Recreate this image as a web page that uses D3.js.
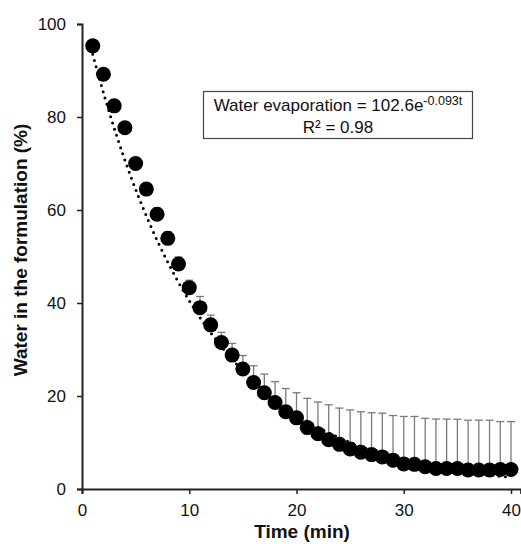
<!DOCTYPE html>
<html>
<head>
<meta charset="utf-8">
<script src="https://cdn.jsdelivr.net/npm/d3@7"></script>
<style>
  body { margin: 0; background: #fff; }
  text { font-family: "Liberation Sans", Arial, sans-serif; fill: #111; }
</style>
</head>
<body>
<div id="chart-area"></div>
<script>
// time (min)
var times = [1,2,3,4,5,6,7,8,9,10,11,12,13,14,15,16,17,18,19,20,
             21,22,23,24,25,26,27,28,29,30,31,32,33,34,35,36,37,38,39,40];
// mean water (%)
var water = [95.3,89.2,82.4,77.7,70.0,64.5,59.1,53.9,48.4,43.3,
             39.0,35.3,31.5,28.8,25.8,22.9,20.7,18.6,16.6,15.3,
             13.2,11.9,10.6,9.6,8.6,7.9,7.4,6.9,6.2,5.4,
             5.3,4.8,4.4,4.4,4.4,4.1,4.1,4.1,4.2,4.2];
// upper error (SD)
var errUp = [0.5,0.8,1.0,1.0,1.2,1.2,1.3,1.4,1.5,1.6,
             2.4,2.1,2.2,2.5,2.9,3.6,4.0,4.5,5.0,5.4,
             6.3,6.8,7.5,7.8,8.4,8.7,9.0,9.4,9.6,10.2,
             10.3,10.4,10.65,10.65,10.6,10.7,10.7,10.7,10.3,10.3];
var xTicks = [0,10,20,30,40];
var yTicks = [0,20,40,60,80,100];
// exponential trendline  y = a * e^(b t)
var fitA = 102.6, fitB = -0.093;

var width = 521, height = 547;

var svg = d3.select("#chart-area").append("svg")
    .attr("width", width)
    .attr("height", height);

var x = d3.scaleLinear().domain([0, 40.9]).range([82, 82 + 40.9 * 10.725]);
var y = d3.scaleLinear().domain([0, 100]).range([489, 24]);

var data = times.map(function(t, i) {
    return {t: t, v: water[i], e: errUp[i]};
});

// axes
var xAxis = svg.append("g")
    .attr("transform", "translate(0," + y(0) + ")")
    .call(d3.axisBottom(x).tickValues(xTicks).tickSizeOuter(0).tickSize(5).tickPadding(10));
var yAxis = svg.append("g")
    .attr("transform", "translate(" + x(0) + ",0)")
    .call(d3.axisLeft(y).tickValues(yTicks).tickSizeOuter(0).tickSize(5).tickPadding(11));

[xAxis, yAxis].forEach(function(a) {
    a.select(".domain").attr("stroke", "#222").attr("stroke-width", 2);
    a.selectAll(".tick line").attr("stroke", "#222").attr("stroke-width", 1.5);
    a.selectAll(".tick text")
        .attr("font-size", "17px")
        .attr("font-family", "Liberation Sans, Arial, sans-serif")
        .attr("fill", "#111");
});

// error bars (upper only)
var eb = svg.append("g").attr("stroke", "#7a7a7a").attr("stroke-width", 1.3);
eb.selectAll("line.v").data(data).enter().append("line")
    .attr("class", "v")
    .attr("x1", function(d) { return x(d.t); })
    .attr("x2", function(d) { return x(d.t); })
    .attr("y1", function(d) { return y(d.v); })
    .attr("y2", function(d) { return y(d.v + d.e); });
eb.selectAll("line.c").data(data).enter().append("line")
    .attr("class", "c")
    .attr("x1", function(d) { return x(d.t) - 4; })
    .attr("x2", function(d) { return x(d.t) + 4; })
    .attr("y1", function(d) { return y(d.v + d.e); })
    .attr("y2", function(d) { return y(d.v + d.e); });

// trendline
var fitT = d3.range(1, 40.01, 0.25);
var line = d3.line()
    .x(function(t) { return x(t); })
    .y(function(t) { return y(fitA * Math.exp(fitB * t)); });
svg.append("path")
    .datum(fitT)
    .attr("d", line)
    .attr("fill", "none")
    .attr("stroke", "#000")
    .attr("stroke-width", 3)
    .attr("stroke-linecap", "round")
    .attr("stroke-dasharray", "0,6.5");

// points
svg.append("g").selectAll("circle").data(data).enter().append("circle")
    .attr("cx", function(d) { return x(d.t); })
    .attr("cy", function(d) { return y(d.v); })
    .attr("r", 7.5)
    .attr("fill", "#000");

// equation box
svg.append("rect")
    .attr("x", 203.5).attr("y", 91.5)
    .attr("width", 269).attr("height", 47)
    .attr("fill", "#fff")
    .attr("stroke", "#444")
    .attr("stroke-width", 1.2);

var eq = svg.append("text")
    .attr("x", 338).attr("y", 111)
    .attr("text-anchor", "middle")
    .attr("font-size", "17px");
eq.append("tspan").text("Water evaporation = " + fitA + "e");
eq.append("tspan")
    .attr("font-size", "12.5px")
    .attr("dy", -6)
    .text(fitB + "t");

svg.append("text")
    .attr("x", 338).attr("y", 133)
    .attr("text-anchor", "middle")
    .attr("font-size", "17px")
    .text("R² = 0.98");

// axis titles
svg.append("text")
    .attr("x", 302).attr("y", 538)
    .attr("text-anchor", "middle")
    .attr("font-size", "19px")
    .attr("font-weight", "bold")
    .text("Time (min)");

svg.append("text")
    .attr("transform", "translate(27,250) rotate(-90)")
    .attr("text-anchor", "middle")
    .attr("font-size", "19px")
    .attr("font-weight", "bold")
    .text("Water in the formulation (%)");
</script>
</body>
</html>
